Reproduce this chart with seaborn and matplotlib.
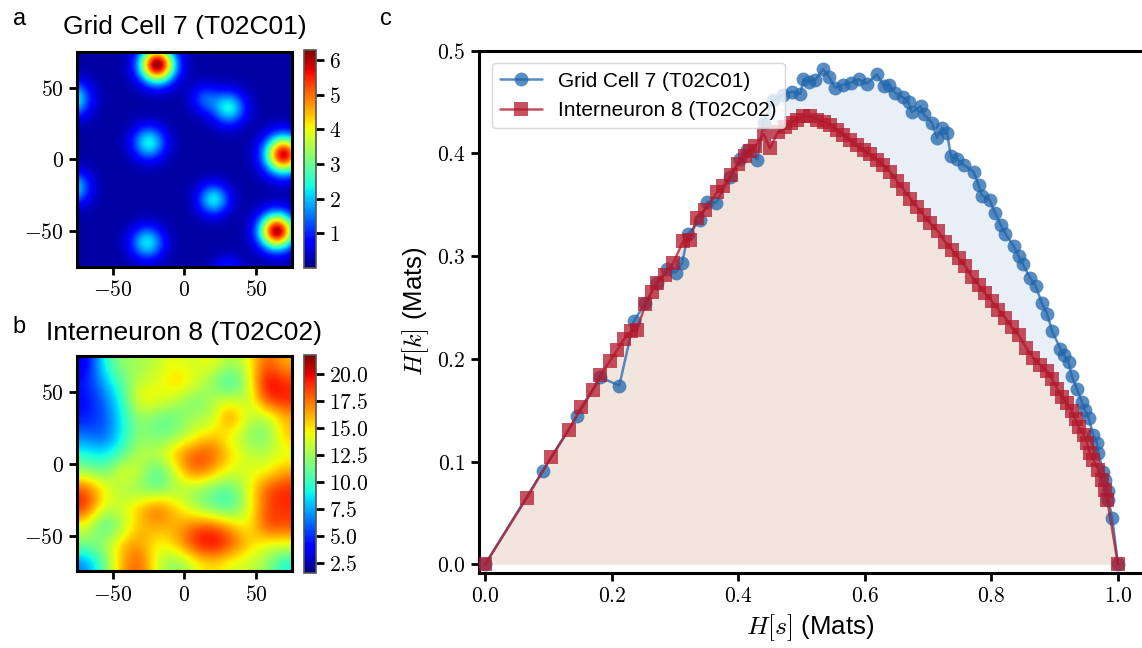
import numpy as np
import pandas as pd
import matplotlib
matplotlib.use("Agg")
import matplotlib.pyplot as plt
from matplotlib.ticker import FuncFormatter, MultipleLocator
import seaborn as sns

# ---------------- panel c: entropy trade-off curves ----------------
grid_label = "Grid Cell 7 (T02C01)"
inter_label = "Interneuron 8 (T02C02)"

grid_hs = [0.000, 0.091, 0.145, 0.182, 0.212, 0.235, 0.253, 0.271, 0.287, 0.301,
           0.311, 0.321, 0.340, 0.351, 0.365, 0.387, 0.403, 0.413, 0.430, 0.440,
           0.455, 0.470, 0.485, 0.498, 0.503, 0.511, 0.521, 0.534, 0.544, 0.553,
           0.566, 0.578, 0.590, 0.603, 0.619, 0.630, 0.638, 0.648, 0.660, 0.669,
           0.674, 0.688, 0.693, 0.706, 0.714, 0.722, 0.730, 0.736, 0.745, 0.756,
           0.772, 0.780, 0.785, 0.797, 0.806, 0.815, 0.822, 0.835, 0.843, 0.850,
           0.861, 0.870, 0.880, 0.888, 0.896, 0.909, 0.914, 0.922, 0.927, 0.935,
           0.943, 0.948, 0.954, 0.961, 0.967, 0.969, 0.977, 0.980, 0.985, 0.985,
           0.991, 1.000]
grid_hk = [0.000, 0.091, 0.144, 0.182, 0.174, 0.237, 0.254, 0.274, 0.287, 0.284,
           0.293, 0.322, 0.335, 0.353, 0.352, 0.377, 0.395, 0.403, 0.394, 0.430,
           0.452, 0.457, 0.460, 0.458, 0.472, 0.470, 0.471, 0.482, 0.474, 0.464,
           0.467, 0.469, 0.472, 0.468, 0.477, 0.466, 0.467, 0.459, 0.455, 0.450,
           0.440, 0.446, 0.438, 0.430, 0.415, 0.425, 0.420, 0.397, 0.395, 0.389,
           0.382, 0.369, 0.359, 0.355, 0.342, 0.330, 0.322, 0.310, 0.300, 0.292,
           0.279, 0.271, 0.254, 0.244, 0.227, 0.210, 0.204, 0.197, 0.183, 0.171,
           0.158, 0.150, 0.142, 0.126, 0.118, 0.108, 0.090, 0.082, 0.071, 0.063,
           0.045, 0.000]

inter_hs = [0.000, 0.066, 0.104, 0.132, 0.152, 0.170, 0.182, 0.197, 0.209, 0.219,
            0.231, 0.240, 0.253, 0.263, 0.271, 0.284, 0.297, 0.313, 0.324, 0.334,
            0.347, 0.366, 0.376, 0.389, 0.400, 0.411, 0.419, 0.427, 0.440, 0.450,
            0.463, 0.474, 0.483, 0.493, 0.503, 0.514, 0.524, 0.535, 0.545, 0.556,
            0.566, 0.577, 0.587, 0.598, 0.608, 0.619, 0.629, 0.640, 0.651, 0.661,
            0.672, 0.682, 0.693, 0.703, 0.716, 0.727, 0.738, 0.748, 0.759, 0.769,
            0.780, 0.790, 0.801, 0.811, 0.822, 0.832, 0.843, 0.855, 0.866, 0.877,
            0.888, 0.896, 0.904, 0.912, 0.919, 0.927, 0.933, 0.938, 0.946, 0.951,
            0.956, 0.961, 0.969, 0.975, 0.980, 0.983, 1.000]
inter_hk = [0.000, 0.065, 0.104, 0.131, 0.153, 0.170, 0.184, 0.198, 0.209, 0.219,
            0.227, 0.228, 0.253, 0.265, 0.274, 0.282, 0.293, 0.315, 0.316, 0.337,
            0.345, 0.362, 0.368, 0.379, 0.390, 0.397, 0.402, 0.407, 0.419, 0.405,
            0.421, 0.426, 0.430, 0.433, 0.436, 0.436, 0.433, 0.431, 0.428, 0.423,
            0.418, 0.413, 0.408, 0.403, 0.399, 0.394, 0.389, 0.382, 0.373, 0.365,
            0.356, 0.348, 0.340, 0.332, 0.324, 0.314, 0.306, 0.298, 0.290, 0.280,
            0.272, 0.264, 0.256, 0.248, 0.240, 0.231, 0.223, 0.211, 0.201, 0.194,
            0.188, 0.180, 0.171, 0.163, 0.157, 0.149, 0.141, 0.134, 0.126, 0.118,
            0.108, 0.102, 0.092, 0.082, 0.072, 0.063, 0.000]

# ---------------- panel a: grid cell firing fields ----------------
field_x = [-19.4, 30.6, 14.0, -25.2, 69.0, 20.0, 64.3, -26.4, -79.0, -78.0, 30.0]
field_y = [65.9, 35.7, 42.0, 11.3, 3.1, -28.3, -50.4, -58.5, 42.0, -20.0, -78.0]
field_peak = [6.0, 2.1, 1.0, 2.1, 5.6, 2.0, 5.8, 2.0, 2.3, 1.9, 0.8]
field_width = [8.5, 8.0, 7.0, 8.0, 9.0, 7.5, 8.5, 8.0, 8.5, 8.0, 7.0]
field_floor = 0.2

# ---------------- panel b: interneuron rate map (rows top to bottom) ----------------
inter_map = [
    [3.0, 9.5, 12.5, 12.5, 13.5, 14.5, 13.5, 15.0, 12.5, 14.0, 18.5, 16.0],
    [4.5, 7.5, 11.0, 13.5, 14.0, 16.0, 14.5, 12.0, 9.0, 13.0, 21.0, 19.0],
    [4.0, 6.0, 9.5, 15.5, 14.5, 13.5, 11.0, 13.0, 14.0, 12.5, 19.0, 19.5],
    [4.5, 5.5, 9.0, 12.5, 11.0, 11.0, 13.0, 12.5, 18.5, 13.5, 12.5, 16.0],
    [6.5, 5.5, 9.0, 12.5, 11.0, 12.0, 14.0, 16.0, 14.0, 12.0, 11.0, 16.0],
    [9.5, 8.5, 10.5, 13.5, 13.5, 16.5, 18.5, 18.5, 15.5, 13.5, 13.0, 14.0],
    [12.5, 11.0, 15.0, 13.5, 9.5, 14.0, 18.5, 16.5, 14.0, 14.0, 14.5, 16.5],
    [19.0, 15.0, 12.5, 12.0, 11.0, 13.0, 12.0, 11.0, 10.0, 14.0, 18.5, 19.5],
    [19.5, 13.5, 14.0, 16.0, 18.5, 15.5, 13.0, 11.0, 10.0, 13.5, 18.5, 19.0],
    [14.0, 9.5, 12.5, 16.0, 16.5, 16.0, 18.0, 18.5, 16.5, 14.0, 19.0, 18.5],
    [12.0, 12.5, 16.0, 17.0, 14.0, 16.0, 19.5, 21.0, 19.0, 16.0, 14.0, 14.5],
    [6.5, 11.0, 16.5, 18.5, 13.5, 11.5, 14.0, 15.5, 14.0, 13.5, 12.5, 9.0],
]

arena = [-75, 75, -75, 75]
map_ticks = [-50, 0, 50]
grid_cbar_ticks = [1, 2, 3, 4, 5, 6]
inter_cbar_ticks = [2.5, 5.0, 7.5, 10.0, 12.5, 15.0, 17.5, 20.0]

blue = "#2166ac"
red = "#b2182b"

sns.set_theme(style="ticks")
plt.rcParams["font.family"] = ["Liberation Sans", "DejaVu Sans"]
plt.rcParams.update({
    "mathtext.fontset": "cm",
    "text.color": "black",
    "axes.labelcolor": "black",
    "axes.linewidth": 2.2,
    "axes.edgecolor": "black",
    "xtick.color": "black",
    "ytick.color": "black",
    "xtick.labelcolor": "black",
    "ytick.labelcolor": "black",
    "xtick.major.width": 2.0,
    "ytick.major.width": 2.0,
    "xtick.major.size": 6.0,
    "ytick.major.size": 6.0,
    "xtick.labelsize": 15.5,
    "ytick.labelsize": 15.5,
})

math_int = FuncFormatter(lambda v, p: f"${v:g}$")
math_one = FuncFormatter(lambda v, p: f"${v:.1f}$")

fig = plt.figure(figsize=(11.42, 6.48), dpi=100)


def rate_map(ax_pos, cbar_pos, values, vmin, vmax, cticks, cfmt, title, pad, interp):
    ax = fig.add_axes(ax_pos)
    im = ax.imshow(values, extent=arena, origin="upper", cmap="jet",
                   vmin=vmin, vmax=vmax, aspect="auto", interpolation=interp)
    ax.set_xticks(map_ticks)
    ax.set_yticks(map_ticks)
    ax.xaxis.set_major_formatter(math_int)
    ax.yaxis.set_major_formatter(math_int)
    for s in ax.spines.values():
        s.set_visible(True)
        s.set_linewidth(2.2)
    ax.set_title(title, fontsize=19, pad=pad, color="black")
    cax = fig.add_axes(cbar_pos)
    cb = fig.colorbar(im, cax=cax, ticks=cticks)
    cb.outline.set_edgecolor("#555555")
    cb.outline.set_linewidth(1.2)
    cax.tick_params(length=6, width=2.0, labelsize=15.5)
    cax.yaxis.set_major_formatter(cfmt)
    return ax


# grid cell map built from its firing fields
xs = np.linspace(-75, 75, 151)
X, Y = np.meshgrid(xs, xs[::-1])
grid_rate = np.full_like(X, field_floor)
for cx, cy, pk, w in zip(field_x, field_y, field_peak, field_width):
    grid_rate += pk * np.exp(-((X - cx) ** 2 + (Y - cy) ** 2) / (2 * w ** 2))

rate_map([0.0674, 0.5880, 0.1883, 0.3318], [0.2662, 0.5864, 0.0105, 0.3364],
         grid_rate, 0.0, 6.29, grid_cbar_ticks, math_int, grid_label, 13.0, "bilinear")
rate_map([0.0674, 0.1181, 0.1883, 0.3326], [0.2662, 0.1157, 0.0105, 0.3364],
         np.array(inter_map), 1.6, 21.8, inter_cbar_ticks, math_one, inter_label, 11.5, "bicubic")

# entropy curves
ax = fig.add_axes([0.41944, 0.11620, 0.58056, 0.80556])
ax.fill_between(grid_hs, grid_hk, color=blue, alpha=0.1, lw=0, zorder=0)
ax.fill_between(inter_hs, inter_hk, color="#f2e5de", lw=0, zorder=0.5)

df_grid = pd.DataFrame({"hs": grid_hs, "hk": grid_hk})
df_inter = pd.DataFrame({"hs": inter_hs, "hk": inter_hk})
sns.lineplot(data=df_grid, x="hs", y="hk", sort=False, estimator=None, ax=ax,
             color=blue, marker="o", markersize=10, markeredgewidth=0,
             linewidth=1.8, alpha=0.75, label=grid_label, zorder=3)
sns.lineplot(data=df_inter, x="hs", y="hk", sort=False, estimator=None, ax=ax,
             color=red, marker="s", markersize=9.5, markeredgewidth=0,
             linewidth=1.8, alpha=0.75, label=inter_label, zorder=4)

ax.set_xlim(-0.0098, 1.038)
ax.set_ylim(-0.0082, 0.5)
ax.xaxis.set_major_locator(MultipleLocator(0.2))
ax.yaxis.set_major_locator(MultipleLocator(0.1))
ax.xaxis.set_major_formatter(math_one)
ax.yaxis.set_major_formatter(math_one)
ax.spines["right"].set_visible(False)
ax.spines["top"].set_visible(True)
ax.set_xlabel(r"$H[s]$ (Mats)", fontsize=18.5, color="black")
ax.set_ylabel(r"$H[k]$ (Mats)", fontsize=18.5, color="black")
leg = ax.legend(loc="upper left", fontsize=15, frameon=True, fancybox=True,
                framealpha=0.8, edgecolor="#cccccc", borderaxespad=0.6)
for t in leg.get_texts():
    t.set_color("black")

# panel letters
fig.text(0.011, 0.9614, "a", fontsize=17, color="black")
fig.text(0.011, 0.4861, "b", fontsize=17, color="black")
fig.text(0.3327, 0.9614, "c", fontsize=17, color="black")

fig.savefig("out.png", dpi=100)
